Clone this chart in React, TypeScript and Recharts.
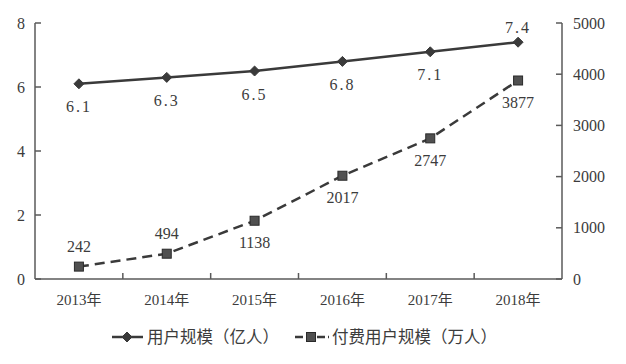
import React from 'react';
import { LineChart, Line, XAxis, YAxis, LabelList } from 'recharts';

const years = ['2013年', '2014年', '2015年', '2016年', '2017年', '2018年'];
const userScale = [6.1, 6.3, 6.5, 6.8, 7.1, 7.4];
const paidUsers = [242, 494, 1138, 2017, 2747, 3877];
const leftTicks = [0, 2, 4, 6, 8];
const rightTicks = [0, 1000, 2000, 3000, 4000, 5000];
const seriesNames = ['用户规模（亿人）', '付费用户规模（万人）'];

const userLabelSide = ['below', 'below', 'below', 'below', 'below', 'above'];
const paidLabelSide = ['above', 'above', 'below', 'below', 'below', 'below'];

const data = years.map((y, i) => ({ year: y, users: userScale[i], paid: paidUsers[i] }));

const LINE = '#3a3a3a';
const AXIS = '#5a5a5a';
const TEXT = '#3c3c3c';
const NUM_FONT = '"Liberation Serif", "Noto Sans CJK SC", serif';
const CJK_FONT = '"Liberation Serif", "Noto Sans CJK SC", serif';

const Diamond = (props: any) => {
  const { cx, cy } = props;
  if (cx == null || cy == null) return null;
  const r = 5;
  return (
    <polygon
      points={`${cx},${cy - r} ${cx + r},${cy} ${cx},${cy + r} ${cx - r},${cy}`}
      fill={LINE}
      stroke={LINE}
    />
  );
};

const Square = (props: any) => {
  const { cx, cy } = props;
  if (cx == null || cy == null) return null;
  const s = 9;
  return <rect x={cx - s / 2} y={cy - s / 2} width={s} height={s} fill="#505050" stroke="#2a2a2a" strokeWidth={1} />;
};

const makeLabel = (side: string[], fmt: (v: number) => string, above: number, below: number, spacing: number) =>
  (props: any) => {
    const { x, y, value, index } = props;
    const isAbove = side[index] === 'above';
    return (
      <text
        x={x}
        y={y + (isAbove ? above : below)}
        textAnchor="middle"
        dominantBaseline="central"
        fontFamily={NUM_FONT}
        fontSize={16}
        letterSpacing={spacing}
        fill={TEXT}
      >
        {fmt(value)}
      </text>
    );
  };

const XTick = (props: any) => {
  const { x, y, payload, index } = props;
  const half = payload?.offset ?? 0;
  return (
    <g>
      {index > 0 && <line x1={x - half} x2={x - half} y1={y} y2={y - 6} stroke={AXIS} strokeWidth={1.5} />}
      <text x={x} y={y + 21} textAnchor="middle" dominantBaseline="central" fontFamily={CJK_FONT} fontSize={15} fill={TEXT}>
        {payload.value}
      </text>
    </g>
  );
};

const Legend = () => (
  <svg width={626} height={364} style={{ position: 'absolute', left: 0, top: 0, pointerEvents: 'none' }}>
    <g>
      <line x1={112} x2={143} y1={337} y2={337} stroke={LINE} strokeWidth={2.5} />
      <Diamond cx={127} cy={337} />
      <text x={147} y={337} dominantBaseline="central" fontFamily={CJK_FONT} fontSize={16.5} fill={TEXT}>
        {seriesNames[0]}
      </text>
    </g>
    <g>
      <line x1={295} x2={329} y1={337} y2={337} stroke={LINE} strokeWidth={2.5} strokeDasharray="8 3" />
      <Square cx={311} cy={337} />
      <text x={332} y={337} dominantBaseline="central" fontFamily={CJK_FONT} fontSize={16.5} fill={TEXT}>
        {seriesNames[1]}
      </text>
    </g>
  </svg>
);

export default function App() {
  return (
    <div style={{ position: 'absolute', left: 0, top: 0, width: 626, height: 364, background: '#fff' }}>
      <LineChart width={626} height={364} data={data} margin={{ top: 23, right: 0, bottom: 55, left: 0 }}>
        <XAxis
          dataKey="year"
          scale="band"
          height={30}
          stroke={AXIS}
          strokeWidth={1.5}
          tickLine={false}
          tickSize={0}
          tickMargin={0}
          tick={<XTick />}
          interval={0}
        />
        <YAxis
          yAxisId="left"
          orientation="left"
          width={35}
          domain={[0, 8]}
          ticks={leftTicks}
          stroke={AXIS}
          strokeWidth={1.5}
          tickSize={-6}
          tickMargin={16}
          tick={{ fill: TEXT, fontSize: 16, fontFamily: NUM_FONT }}
        />
        <YAxis
          yAxisId="right"
          orientation="right"
          width={64}
          domain={[0, 5000]}
          ticks={rightTicks}
          stroke={AXIS}
          strokeWidth={1.5}
          tickSize={-6}
          tickMargin={17}
          tick={{ fill: TEXT, fontSize: 16, fontFamily: NUM_FONT, textAnchor: 'start' }}
        />
        <Line
          yAxisId="left"
          dataKey="users"
          stroke={LINE}
          strokeWidth={2.5}
          dot={<Diamond />}
          isAnimationActive={false}
        >
          <LabelList dataKey="users" content={makeLabel(userLabelSide, (v) => v.toFixed(1), -15, 23, 2)} />
        </Line>
        <Line
          yAxisId="right"
          dataKey="paid"
          stroke={LINE}
          strokeWidth={2.5}
          strokeDasharray="10 6"
          dot={<Square />}
          isAnimationActive={false}
        >
          <LabelList dataKey="paid" content={makeLabel(paidLabelSide, (v) => String(v), -20, 22, 0)} />
        </Line>
      </LineChart>
      <Legend />
    </div>
  );
}
